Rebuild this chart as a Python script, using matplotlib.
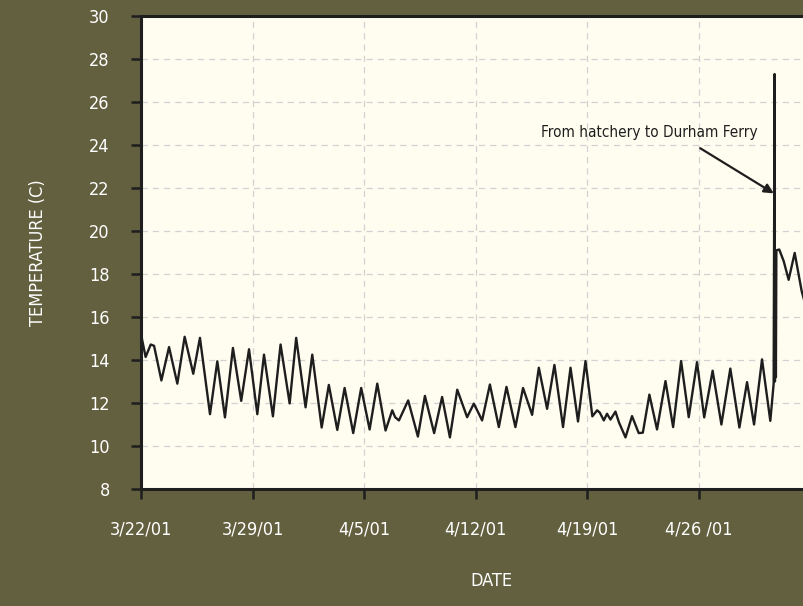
import pandas as pd
import matplotlib
matplotlib.use("Agg")
import matplotlib.pyplot as plt

plt.rcParams['font.family'] = ['DejaVu Sans']
plt.rcParams['font.stretch'] = 'condensed'

# waktu dalam hari sejak 3/22/01 00:00, suhu dalam derajat C
hari = [0.0, 0.29, 0.61, 0.82, 1.28, 1.76, 2.28, 2.74, 3.28, 3.70,
        4.33, 4.79, 5.27, 5.77, 6.29, 6.78, 7.30, 7.72, 8.28, 8.76,
        9.33, 9.74, 10.33, 10.75, 11.34, 11.79, 12.32, 12.78, 13.32, 13.82,
        14.35, 14.83, 15.35, 15.77, 15.95, 16.19, 16.77, 17.38, 17.82, 18.40,
        18.90, 19.39, 19.85, 20.47, 20.89, 21.10, 21.41, 21.90, 22.46, 22.94,
        23.50, 23.98, 24.55, 24.97, 25.49, 25.95, 26.49, 26.96, 27.43, 27.90,
        28.33, 28.63, 28.80, 29.05, 29.25, 29.47, 29.78, 30.00, 30.41, 30.82,
        31.24, 31.50, 31.91, 32.39, 32.92, 33.40, 33.90, 34.38, 34.90, 35.35,
        35.88, 36.43, 36.99, 37.56, 38.04, 38.48, 38.98, 39.50, 39.71, 39.77,
        39.79, 39.82, 39.85, 39.88, 40.06, 40.34, 40.65, 41.03, 41.47, 41.80]
suhu = [15.2, 14.14, 14.72, 14.66, 13.05, 14.6, 12.9, 15.08, 13.36, 15.03,
        11.48, 13.94, 11.33, 14.56, 12.1, 14.5, 11.48, 14.25, 11.38, 14.72,
        11.98, 15.03, 11.8, 14.25, 10.86, 12.84, 10.75, 12.7, 10.6, 12.7,
        10.77, 12.9, 10.72, 11.66, 11.34, 11.19, 12.12, 10.44, 12.33, 10.6,
        12.28, 10.4, 12.62, 11.34, 11.97, 11.66, 11.19, 12.86, 10.88, 12.75,
        10.88, 12.7, 11.45, 13.64, 11.73, 13.77, 10.88, 13.64, 11.14, 13.95,
        11.38, 11.66, 11.55, 11.19, 11.5, 11.23, 11.6, 11.1, 10.4, 11.39,
        10.6, 10.62, 12.39, 10.77, 13.02, 10.88, 13.95, 11.34, 13.9, 11.33,
        13.5, 11.0, 13.6, 10.86, 12.97, 11.0, 14.03, 11.17, 12.9, 27.3,
        13.0, 19.0, 13.2, 19.1, 19.14, 18.6, 17.73, 18.98, 17.2, 16.3]

label_tanggal = ['3/22/01', '3/29/01', '4/5/01', '4/12/01', '4/19/01', '4/26 /01']
hari_tick = [0, 7, 14, 21, 28, 35]
suhu_tick = list(range(8, 31, 2))

awal = pd.Timestamp('2001-03-22')
waktu = awal + pd.to_timedelta(hari, unit='D')
waktu_tick = awal + pd.to_timedelta(hari_tick, unit='D')

warna_latar = '#62603f'
warna_plot = '#fffdf0'

fig = plt.figure(figsize=(8.04, 6.06), dpi=100, facecolor=warna_latar)
ax = fig.add_axes([141 / 804, 117 / 606, 701 / 804, 473 / 606], facecolor=warna_plot)

ax.plot(waktu, suhu, color='#1e1e1e', lw=1.7, solid_joinstyle='round')

ax.set_xlim(awal, awal + pd.Timedelta(days=44))
ax.set_ylim(8, 30)
ax.set_xticks(waktu_tick)
ax.set_xticklabels(label_tanggal)
ax.set_yticks(suhu_tick)

ax.grid(True, color='#d2d2d2', ls=(0, (5, 4)), lw=0.9)
ax.set_axisbelow(True)

for s in ['left', 'bottom', 'top']:
    ax.spines[s].set_linewidth(2.2)
    ax.spines[s].set_color('#1e1e1e')
ax.spines['right'].set_visible(False)

ax.tick_params(direction='out', length=7.5, width=1.8, color='#1e1e1e',
               labelcolor='white', labelsize=13, pad=15)

ax.set_xlabel('DATE', color='white', fontsize=13, labelpad=24)
ax.set_ylabel('TEMPERATURE (C)', color='white', fontsize=13, labelpad=30)

# keterangan panah ke lonjakan suhu
ax.text(awal + pd.Timedelta(days=31.9), 24.6, 'From hatchery to Durham Ferry',
        ha='center', va='center', fontsize=11, color='#1e1e1e')
ax.annotate('', xy=(awal + pd.Timedelta(days=39.72), 21.75),
            xytext=(awal + pd.Timedelta(days=35.1), 23.85),
            arrowprops=dict(arrowstyle='-|>', color='#1e1e1e', lw=1.6,
                            mutation_scale=14, shrinkA=0, shrinkB=0))

fig.savefig('out.png', dpi=100, facecolor=warna_latar)
